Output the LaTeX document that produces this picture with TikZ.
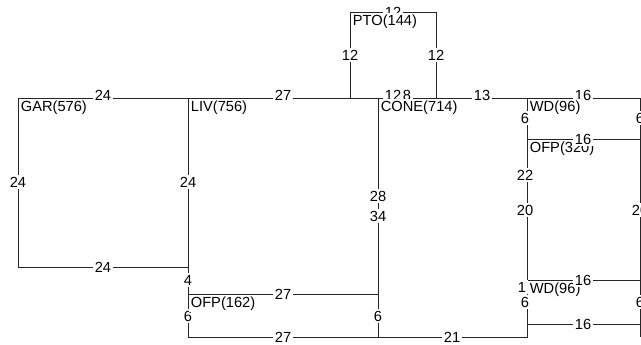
\documentclass[tikz,border=0pt]{standalone}
\usepackage{fontspec}
\setmainfont{Liberation Sans}
\usetikzlibrary{positioning}
\tikzset{
  wallLine/.style={draw=black!85, line width=0.6pt},
  lenLabel/.style={fill=white, inner sep=1.6pt, font=\fontsize{11}{13}\selectfont},
  roomLabel/.style={fill=white, inner sep=1.2pt, anchor=north west, font=\fontsize{11}{13}\selectfont}
}
\begin{document}
\begin{tikzpicture}[x=0.75pt,y=-0.75pt]
  \useasboundingbox (0,0) rectangle (641,344);
  \clip (0,0) rectangle (641,344);
  % walls
  \draw[wallLine] (18,98) -- (640,98);
  \draw[wallLine] (18,98) -- (18,267) -- (188,267);
  \draw[wallLine] (188,98) -- (188,337) -- (527,337) -- (527,98);
  \draw[wallLine] (188,294) -- (378,294);
  \draw[wallLine] (378,98) -- (378,337);
  \draw[wallLine] (350,98) -- (350,12) -- (436,12) -- (436,98);
  \draw[wallLine] (640,98) -- (640,337);
  \foreach \y in {139,280,324}
    \draw[wallLine] (527,\y) -- (640,\y);
  % lengths behind the room names
  \foreach \x/\y/\len [count=\i] in {103/95/24, 283/95/27, 393/95/12, 407/95/8, 482/95/13, 583/95/16,
      393/12/12, 350/55/12, 436/55/12,
      18/182/24, 188/182/24, 103/267/24, 188/280/4, 188/316/6,
      283/294/27, 283/337/27, 452/337/21,
      378/196/28, 378/216/34, 378/316/6,
      525/118/6, 525/175/22, 525/210/20, 522/287/1, 525/302/6,
      583/324/16, 640/118/6, 640/210/20, 640/302/6}
    \node[lenLabel] (len\i) at (\x,\y) {\len};
  % rooms
  \node[roomLabel] (gar) at (19,99) {GAR(576)};
  \node[roomLabel] (liv) at (189,99) {LIV(756)};
  \node[roomLabel] (pto) at (351,13) {PTO(144)};
  \node[roomLabel] (cone) at (379,99) {CONE(714)};
  \node[roomLabel] (wdTop) at (528,99) {WD(96)};
  \node[roomLabel] (ofpRight) at (528,140) {OFP(320)};
  \node[roomLabel] (wdLow) at (528,281) {WD(96)};
  \node[roomLabel] (ofpLow) at (189,295) {OFP(162)};
  % lengths in front
  \node[lenLabel] (lenOfp) at (583,139) {16};
  \node[lenLabel] (lenWd) at (583,280) {16};
\end{tikzpicture}
\end{document}
